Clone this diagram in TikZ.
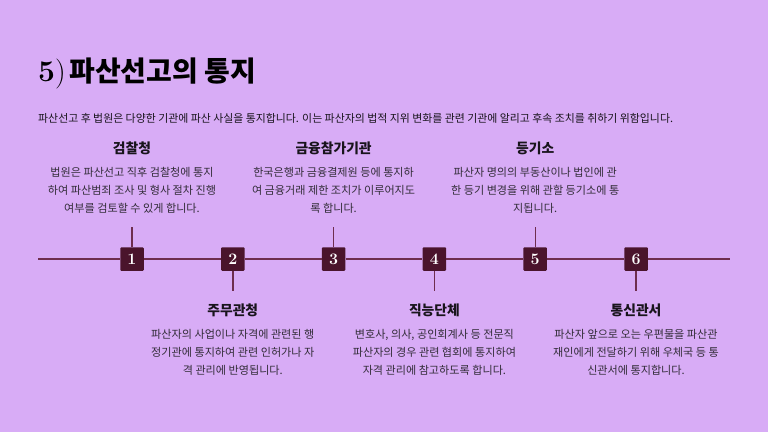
\documentclass[tikz,border=0pt]{standalone}
\usepackage{fontspec}
\newfontfamily\kr{Noto Sans CJK KR}
\definecolor{bgc}{RGB}{216,172,246}
\definecolor{boxc}{RGB}{74,20,44}
\definecolor{linec}{RGB}{110,45,78}
\definecolor{headc}{RGB}{25,20,28}
\definecolor{descc}{RGB}{50,44,56}
\tikzset{
  tline/.style={draw=linec, line width=1.4pt},
  conn/.style={draw=linec, line width=1.4pt},
  numbox/.style={rectangle, fill=boxc, minimum size=23.5pt, inner sep=0pt, rounded corners=1pt,
    text=white, font=\bfseries\fontsize{16}{16}\selectfont},
  head/.style={anchor=base, inner sep=0pt, text=headc, font=\kr\bfseries\fontsize{13.8}{13.8}\selectfont},
  desc/.style={anchor=base, inner sep=0pt, text=descc, font=\kr\fontsize{11.1}{11.1}\selectfont},
}
\begin{document}
\begin{tikzpicture}[x=1pt, y=-1pt]
\fill[bgc] (0,0) rectangle (768,432);
\useasboundingbox (0,0) rectangle (768,432);

% title and intro
\node[anchor=base west, inner sep=0pt, text=black] (title) at (38,81)
  {{\fontsize{30}{30}\selectfont\textbf{5})}\hspace{3.6pt}{\kr\bfseries\fontsize{28}{28}\selectfont 파산선고의 통지}};
\node[anchor=base west, inner sep=0pt, text=headc, font=\kr\fontsize{10.9}{10.9}\selectfont] (intro) at (38,122)
  {파산선고 후 법원은 다양한 기관에 파산 사실을 통지합니다. 이는 파산자의 법적 지위 변화를 관련 기관에 알리고 후속 조치를 취하기 위함입니다.};

% timeline boxes
\node[numbox] (b1) at (132,259) {1};
\node[numbox] (b2) at (232.8,259) {2};
\node[numbox] (b3) at (333.6,259) {3};
\node[numbox] (b4) at (434.4,259) {4};
\node[numbox] (b5) at (535.2,259) {5};
\node[numbox] (b6) at (636,259) {6};
\coordinate (ls) at (38,259);
\coordinate (le) at (730,259);
\draw[tline] (ls) -- (b1.west) (b1.east) -- (b2.west) (b2.east) -- (b3.west)
  (b3.east) -- (b4.west) (b4.east) -- (b5.west) (b5.east) -- (b6.west) (b6.east) -- (le);

% stems
\coordinate (s1) at (132,227);
\coordinate (s2) at (232.8,291);
\coordinate (s3) at (333.6,227);
\coordinate (s4) at (434.4,291);
\coordinate (s5) at (535.2,227);
\coordinate (s6) at (636,291);
\draw[conn] (b1.north) -- (s1);
\draw[conn] (b2.south) -- (s2);
\draw[conn] (b3.north) -- (s3);
\draw[conn] (b4.south) -- (s4);
\draw[conn] (b5.north) -- (s5);
\draw[conn] (b6.south) -- (s6);

% item 1
\node[head] (h1) at (132,153.5) {검찰청};
\node[desc] (d1a) at (132,176) {법원은 파산선고 직후 검찰청에 통지};
\node[desc] (d1b) at (132,194.5) {하여 파산범죄 조사 및 형사 절차 진행};
\node[desc] (d1c) at (132,212.5) {여부를 검토할 수 있게 합니다.};
% item 3
\node[head] (h3) at (333.6,153.5) {금융참가기관};
\node[desc] (d3a) at (333.6,176) {한국은행과 금융결제원 등에 통지하};
\node[desc] (d3b) at (333.6,194.5) {여 금융거래 제한 조치가 이루어지도};
\node[desc] (d3c) at (333.6,212.5) {록 합니다.};
% item 5
\node[head] (h5) at (535.2,153.5) {등기소};
\node[desc] (d5a) at (535.2,176) {파산자 명의의 부동산이나 법인에 관};
\node[desc] (d5b) at (535.2,194.5) {한 등기 변경을 위해 관할 등기소에 통};
\node[desc] (d5c) at (535.2,212.5) {지됩니다.};
% item 2
\node[head] (h2) at (232.8,315.5) {주무관청};
\node[desc] (d2a) at (232.8,338) {파산자의 사업이나 자격에 관련된 행};
\node[desc] (d2b) at (232.8,356) {정기관에 통지하여 관련 인허가나 자};
\node[desc] (d2c) at (232.8,374) {격 관리에 반영됩니다.};
% item 4
\node[head] (h4) at (434.4,315.5) {직능단체};
\node[desc] (d4a) at (434.4,338) {변호사, 의사, 공인회계사 등 전문직};
\node[desc] (d4b) at (434.4,356) {파산자의 경우 관련 협회에 통지하여};
\node[desc] (d4c) at (434.4,374) {자격 관리에 참고하도록 합니다.};
% item 6
\node[head] (h6) at (636,315.5) {통신관서};
\node[desc] (d6a) at (636,338) {파산자 앞으로 오는 우편물을 파산관};
\node[desc] (d6b) at (636,356) {재인에게 전달하기 위해 우체국 등 통};
\node[desc] (d6c) at (636,374) {신관서에 통지합니다.};
\end{tikzpicture}
\end{document}
